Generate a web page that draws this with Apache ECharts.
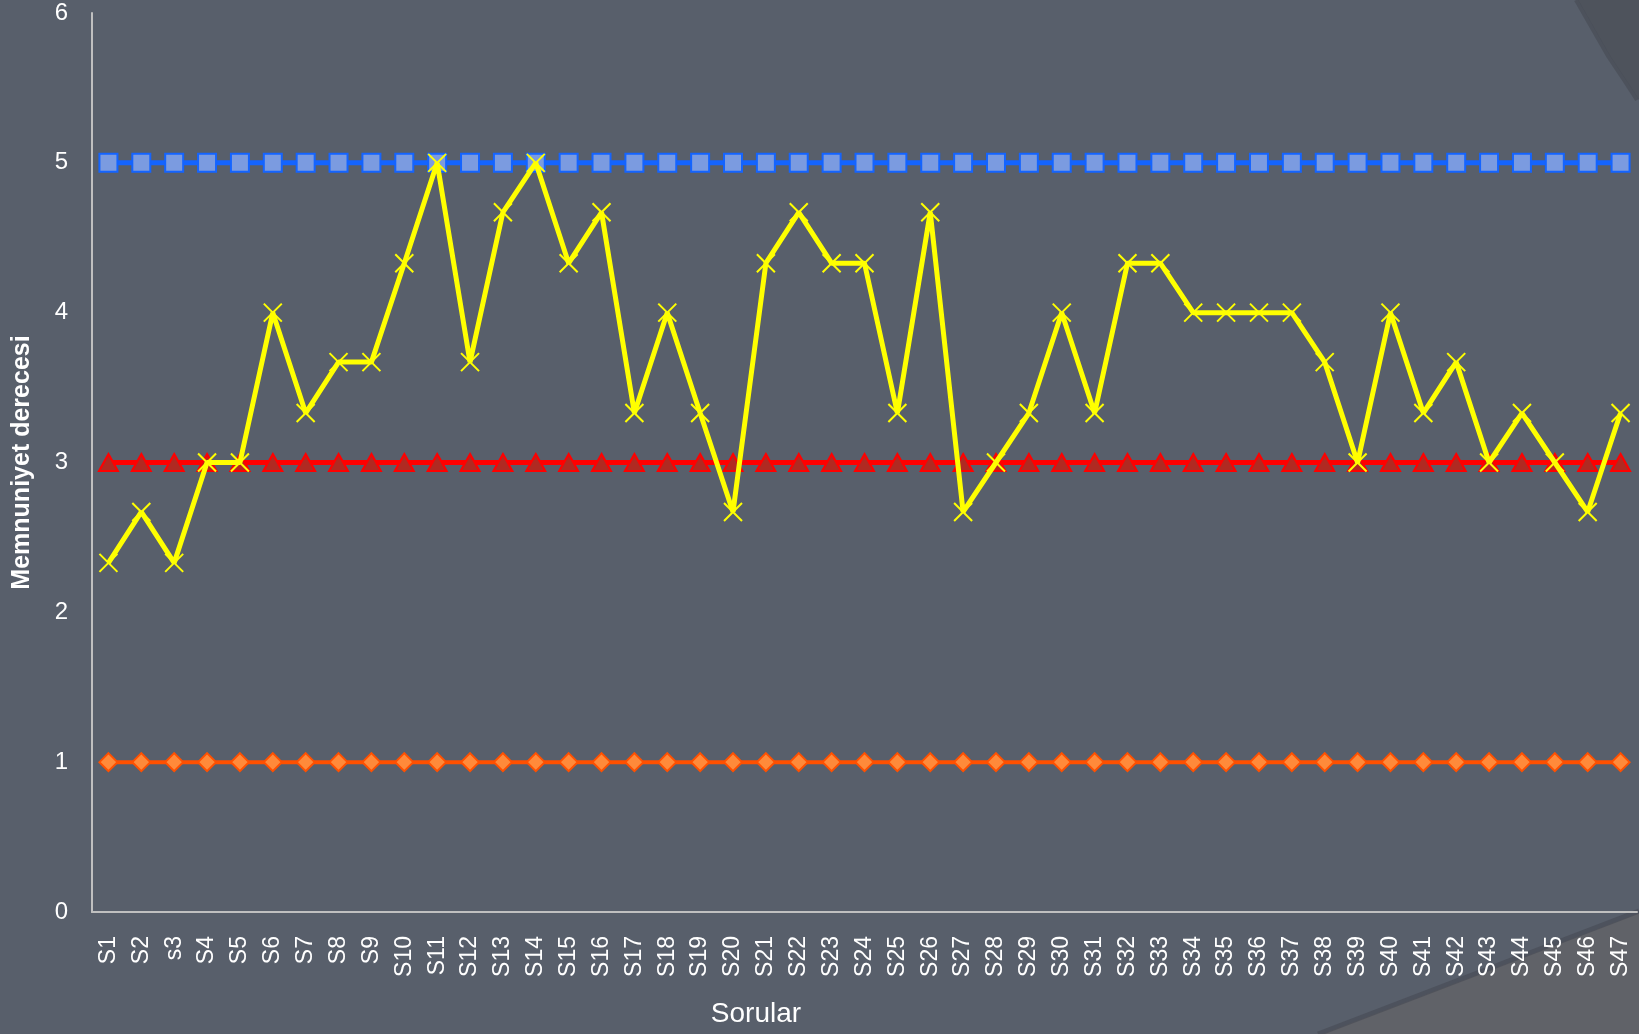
<!DOCTYPE html>
<html>
<head>
<meta charset="utf-8">
<script src="https://cdn.jsdelivr.net/npm/echarts@6/dist/echarts.min.js"></script>
<style>
html,body{margin:0;padding:0;background:#585f6b;}
#c{width:1639px;height:1034px;}
</style>
</head>
<body>
<div id="c"></div>
<script>
const categories = ["S1","S2","s3","S4","S5","S6","S7","S8","S9","S10","S11","S12","S13","S14","S15","S16","S17","S18","S19","S20","S21","S22","S23","S24","S25","S26","S27","S28","S29","S30","S31","S32","S33","S34","S35","S36","S37","S38","S39","S40","S41","S42","S43","S44","S45","S46","S47"];
const satisfaction = [2.33,2.67,2.33,3,3,4,3.33,3.67,3.67,4.33,5,3.67,4.67,5,4.33,4.67,3.33,4,3.33,2.67,4.33,4.67,4.33,4.33,3.33,4.67,2.67,3,3.33,4,3.33,4.33,4.33,4,4,4,4,3.67,3,4,3.33,3.67,3,3.33,3,2.67,3.33];
const maxLevel = 5;
const midLevel = 3;
const minLevel = 1;
const yTicks = [0,1,2,3,4,5,6];

const fill = v => categories.map(() => v);

const chart = echarts.init(document.getElementById('c'), null, {renderer:'canvas'});
chart.setOption({
  backgroundColor: '#585f6b',
  animation: false,
  graphic: [
    {type:'polygon', silent:true, z:-10, shape:{points:[[1578,0],[1594,28],[1610,56],[1626,80],[1639,100],[1639,0]]}, style:{fill:'#4e535c'}},
    {type:'polyline', silent:true, z:-9, shape:{points:[[1576,0],[1592,28],[1608,56],[1624,80],[1637,100]]}, style:{stroke:'rgba(66,70,78,0.5)', lineWidth:4, fill:null}},
    {type:'polygon', silent:true, z:-10, shape:{points:[[1639,913],[1322,1034],[1639,1034]]}, style:{fill:'#606268'}},
    {type:'polyline', silent:true, z:-9, shape:{points:[[1639,911],[1318,1034]]}, style:{stroke:'rgba(70,74,84,0.6)', lineWidth:5, fill:null}},
    {type:'text', x:756, y:1014, silent:true, style:{text:'Sorular', fill:'#ffffff', fontSize:28, fontFamily:'Liberation Sans', align:'center', verticalAlign:'middle'}}
  ],
  grid: {left:92, right:2, top:13, bottom:122, containLabel:false, outerBoundsMode:'none'},
  xAxis: {
    type:'category',
    data: categories,
    boundaryGap:true,
    axisLine:{show:true, lineStyle:{color:'#c0c0c0', width:2}},
    axisTick:{show:false},
    axisLabel:{rotate:90, color:'#ffffff', fontSize:23, fontFamily:'Liberation Sans', margin:24, interval:0}
  },
  yAxis: {
    type:'value',
    min:0, max:6, interval:1,
    name:'Memnuniyet derecesi',
    nameLocation:'middle',
    nameGap:57,
    nameMoveOverlap:false,
    nameRotate:90,
    nameTextStyle:{color:'#ffffff', fontSize:25, fontWeight:'bold', fontFamily:'Liberation Sans'},
    axisLine:{show:true, lineStyle:{color:'#c0c0c0', width:2}},
    axisTick:{show:false},
    splitLine:{show:false},
    axisLabel:{color:'#ffffff', fontSize:24, fontFamily:'Liberation Sans', margin:24,
      formatter: v => yTicks.includes(v) ? String(v) : ''}
  },
  series: [
    {
      type:'line', data: fill(maxLevel), z:2,
      lineStyle:{color:'#1464ff', width:5},
      symbol:'rect', symbolSize:18,
      itemStyle:{color:'#7b9be0', borderColor:'#1464ff', borderWidth:2}
    },
    {
      type:'line', data: fill(midLevel), z:3,
      lineStyle:{color:'#ff0000', width:5},
      symbol:'triangle', symbolSize:[19,17],
      itemStyle:{color:'#b02a22', borderColor:'#ff0000', borderWidth:2}
    },
    {
      type:'line', data: fill(minLevel), z:2,
      lineStyle:{color:'#ff5000', width:4},
      symbol:'diamond', symbolSize:[18,18],
      itemStyle:{color:'#ff8a3a', borderColor:'#ff5000', borderWidth:2}
    },
    {
      type:'line', data: satisfaction, z:4,
      lineStyle:{color:'#ffff00', width:5},
      symbol:'path://M0,0 L10,10 M10,0 L0,10', symbolSize:18,
      itemStyle:{color:'#ffff00', borderColor:'#ffff00', borderWidth:2}
    }
  ]
});
</script>
</body>
</html>
